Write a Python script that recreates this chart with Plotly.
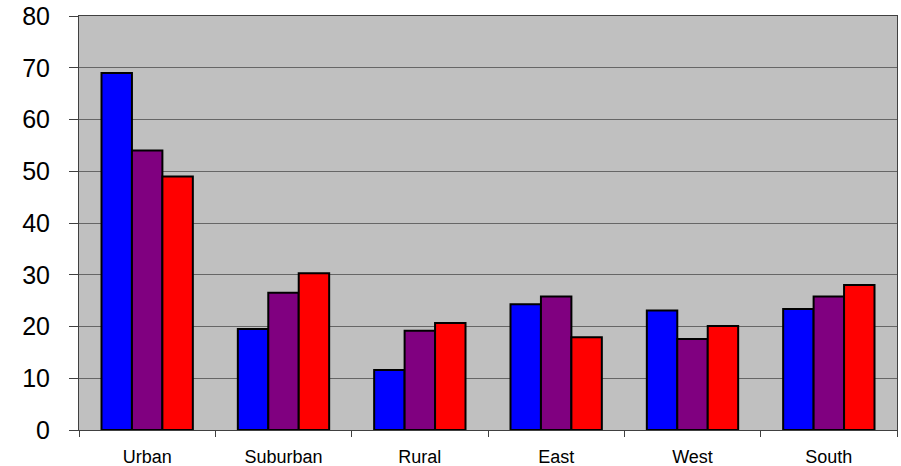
import plotly.graph_objects as go

categories = ["Urban", "Suburban", "Rural", "East", "West", "South"]
series1 = [69, 19.5, 11.6, 24.3, 23.1, 23.4]
series2 = [54, 26.5, 19.2, 25.8, 17.6, 25.8]
series3 = [49, 30.3, 20.7, 17.9, 20.1, 28.0]
series_names = ["Series1", "Series2", "Series3"]
colors = ["#0000FF", "#800080", "#FF0000"]
y_ticks = [0, 10, 20, 30, 40, 50, 60, 70, 80]

fig = go.Figure()
for name, vals, col in zip(series_names, [series1, series2, series3], colors):
    fig.add_trace(go.Bar(
        x=categories, y=vals, name=name,
        marker=dict(color=col, line=dict(color="#000000", width=2)),
        showlegend=False,
    ))

fig.update_layout(
    width=901, height=466,
    margin=dict(l=79, r=4, t=16, b=36),
    paper_bgcolor="#FFFFFF",
    plot_bgcolor="#C0C0C0",
    barmode="group",
    bargap=0.33,
    bargroupgap=0,
    font=dict(family="Liberation Sans, Arial, sans-serif", color="#000000"),
)
fig.update_xaxes(
    type="category",
    automargin=False,
    showgrid=False,
    showline=True, linecolor="#404040", linewidth=1, mirror=True,
    ticks="outside", ticklen=6, tickcolor="#404040", tickson="boundaries",
    tickfont=dict(size=18),
    ticklabelstandoff=10,
)
fig.update_yaxes(
    range=[0, 80],
    automargin=False,
    tickvals=y_ticks,
    showgrid=True, gridcolor="#666666", gridwidth=1,
    showline=True, linecolor="#404040", linewidth=1, mirror=True,
    ticks="outside", ticklen=9, tickcolor="#404040",
    tickfont=dict(size=25),
    ticklabelstandoff=14,
    zeroline=False,
)

fig.write_html(
    "out.html",
    config={"displayModeBar": False},
    post_script="document.body.style.margin='0';document.body.style.overflow='hidden';",
)
